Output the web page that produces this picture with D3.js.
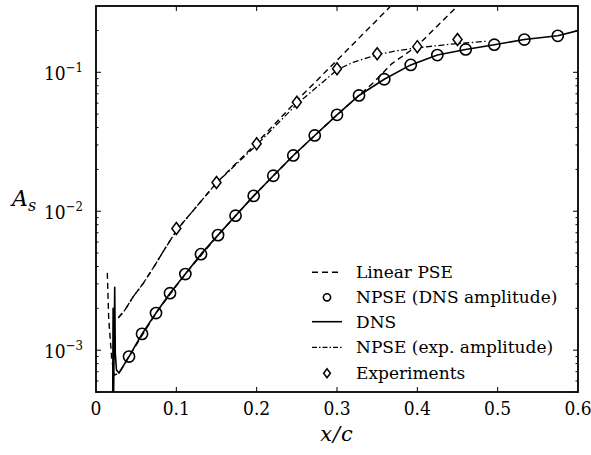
<!DOCTYPE html>
<html>
<head>
<meta charset="utf-8">
<script src="https://cdn.jsdelivr.net/npm/d3@7/dist/d3.min.js"></script>
<style>
  body { margin: 0; background: #fff; }
  .tick-label { font-stretch: condensed; }
</style>
</head>
<body>
<div id="app"></div>
<script>
const full = { width: 591, height: 455 };
const margin = { top: 6, left: 96, right: 13, bottom: 63 };
const inner = {
  width: full.width - margin.left - margin.right,
  height: full.height - margin.top - margin.bottom
};
const serif = "'DejaVu Serif', serif";

// NPSE (DNS amplitude) markers
const npseDnsX = [0.0411, 0.0573, 0.0747, 0.0921, 0.1112, 0.1307, 0.1519, 0.1737, 0.1963, 0.2207, 0.2456,
  0.2723, 0.3000, 0.3274, 0.3588, 0.3918, 0.4249, 0.4602, 0.4958, 0.5332, 0.5748];
const npseDnsY = [9.0e-4, 1.31e-3, 1.85e-3, 2.57e-3, 3.53e-3, 4.91e-3, 6.73e-3, 9.29e-3, 1.29e-2, 1.80e-2, 2.52e-2,
  3.51e-2, 4.94e-2, 6.81e-2, 8.91e-2, 0.113, 0.133, 0.146, 0.158, 0.172, 0.183];

// DNS (solid), with the inflow spike
const dnsX = [0.0208, 0.0213, 0.0218, 0.0233, 0.0240, 0.0255, 0.0286, 0.0411, 0.0573, 0.0747, 0.0921, 0.1112,
  0.1307, 0.1519, 0.1737, 0.1963, 0.2207, 0.2456, 0.2723, 0.3000, 0.3274, 0.3588, 0.3918, 0.4249, 0.4602,
  0.4958, 0.5332, 0.5748, 0.6];
const dnsY = [4.0e-4, 2.0e-3, 4.0e-4, 2.84e-3, 9.5e-4, 7.2e-4, 6.84e-4, 9.0e-4, 1.31e-3, 1.85e-3, 2.57e-3, 3.53e-3,
  4.91e-3, 6.73e-3, 9.29e-3, 1.29e-2, 1.80e-2, 2.52e-2, 3.51e-2, 4.94e-2, 6.81e-2, 8.91e-2, 0.113, 0.133, 0.146,
  0.158, 0.172, 0.183, 0.1995];

// Linear PSE started from DNS amplitude
const linDnsX = [0.0141, 0.0158, 0.0195, 0.0225, 0.0286, 0.0411, 0.0747, 0.1112, 0.1519, 0.1963, 0.2456, 0.3000,
  0.3452, 0.368, 0.4, 0.449];
const linDnsY = [3.6e-3, 1.7e-3, 8.8e-4, 6.6e-4, 6.84e-4, 9.0e-4, 1.85e-3, 3.53e-3, 6.73e-3, 1.29e-2, 2.52e-2, 4.94e-2,
  8.4e-2, 0.115, 0.155, 0.296];

// Linear PSE started from experimental amplitude
const linExpX = [0.0278, 0.0361, 0.0464, 0.0589, 0.0734, 0.0859, 0.1012, 0.15, 0.2, 0.254, 0.3006, 0.366];
const linExpY = [1.71e-3, 1.95e-3, 2.43e-3, 3.03e-3, 4.09e-3, 5.39e-3, 7.4e-3, 1.6e-2, 3.1e-2, 6.6e-2, 0.123, 0.296];

// NPSE (exp. amplitude)
const npseExpX = [0.0278, 0.0361, 0.0464, 0.0589, 0.0734, 0.0859, 0.1012, 0.15, 0.2, 0.25, 0.3, 0.32, 0.35,
  0.375, 0.4, 0.44, 0.485];
const npseExpY = [1.71e-3, 1.95e-3, 2.43e-3, 3.03e-3, 4.09e-3, 5.39e-3, 7.4e-3, 1.6e-2, 3.0e-2, 5.9e-2, 0.104,
  0.118, 0.134, 0.143, 0.150, 0.159, 0.167];

// Experiments
const expX = [0.10, 0.15, 0.20, 0.25, 0.30, 0.35, 0.40, 0.45];
const expY = [7.52e-3, 1.61e-2, 3.06e-2, 6.09e-2, 0.106, 0.136, 0.153, 0.172];

const xTicks = [0, 0.1, 0.2, 0.3, 0.4, 0.5, 0.6];
const xTickLabels = ["0", "0.1", "0.2", "0.3", "0.4", "0.5", "0.6"];
const yTicks = [1e-3, 1e-2, 1e-1];
const yTickExp = ["−3", "−2", "−1"];
const legendLabels = ["Linear PSE", "NPSE (DNS amplitude)", "DNS", "NPSE (exp. amplitude)", "Experiments"];

const zip = (xs, ys) => xs.map((x, i) => [x, ys[i]]);

const x = d3.scaleLinear().domain([0, 0.6]).range([0, inner.width]);
const y = d3.scaleLog().domain([5e-4, 0.3]).range([inner.height, 0]);

const svg = d3.select("#app")
  .append("svg")
  .attr("width", full.width)
  .attr("height", full.height)
  .attr("viewBox", `0 0 ${full.width} ${full.height}`)
  .style("font-family", serif);

svg.append("defs").append("clipPath").attr("id", "clip")
  .append("rect").attr("width", inner.width).attr("height", inner.height);

const g = svg.append("g").attr("transform", `translate(${margin.left},${margin.top})`);

const line = d3.line().x(d => x(d[0])).y(d => y(d[1]));
const plot = g.append("g").attr("clip-path", "url(#clip)");

const dashStyle = "6,4";
const dashDot = "6,2.5,1.5,2.5";

plot.append("path").datum(zip(linDnsX, linDnsY))
  .attr("d", line).attr("fill", "none").attr("stroke", "#000").attr("stroke-width", 1.4)
  .attr("stroke-dasharray", dashStyle);
plot.append("path").datum(zip(linExpX, linExpY))
  .attr("d", line).attr("fill", "none").attr("stroke", "#000").attr("stroke-width", 1.4)
  .attr("stroke-dasharray", dashStyle);
plot.append("path").datum(zip(npseExpX, npseExpY))
  .attr("d", line).attr("fill", "none").attr("stroke", "#000").attr("stroke-width", 1.3)
  .attr("stroke-dasharray", dashDot);
plot.append("path").datum(zip(dnsX, dnsY))
  .attr("d", line).attr("fill", "none").attr("stroke", "#000").attr("stroke-width", 1.6)
  .attr("stroke-linejoin", "round");

plot.selectAll(".npse").data(zip(npseDnsX, npseDnsY)).join("circle")
  .attr("class", "npse")
  .attr("cx", d => x(d[0])).attr("cy", d => y(d[1])).attr("r", 5.6)
  .attr("fill", "none").attr("stroke", "#000").attr("stroke-width", 1.6);

const diamond = (s) => `M0,${-s}L${s * 0.75},0L0,${s}L${-s * 0.75},0Z`;
plot.selectAll(".exp").data(zip(expX, expY)).join("path")
  .attr("class", "exp")
  .attr("transform", d => `translate(${x(d[0])},${y(d[1])})`)
  .attr("d", diamond(6))
  .attr("fill", "#fff").attr("stroke", "#000").attr("stroke-width", 1.5);

// frame and ticks
const minor = [];
[1e-4, 1e-3, 1e-2, 1e-1].forEach(dec => {
  for (let k = 2; k <= 9; k++) {
    const v = dec * k;
    if (v >= 5e-4 && v <= 0.3) minor.push(v);
  }
});
const ticks = g.append("g").attr("stroke", "#000").attr("stroke-width", 1);
xTicks.slice(1, -1).forEach(t => {
  ticks.append("line").attr("x1", x(t)).attr("x2", x(t)).attr("y1", inner.height).attr("y2", inner.height - 5);
  ticks.append("line").attr("x1", x(t)).attr("x2", x(t)).attr("y1", 0).attr("y2", 5);
});
yTicks.forEach(t => {
  ticks.append("line").attr("x1", 0).attr("x2", 5).attr("y1", y(t)).attr("y2", y(t));
  ticks.append("line").attr("x1", inner.width).attr("x2", inner.width - 5).attr("y1", y(t)).attr("y2", y(t));
});
minor.forEach(t => {
  ticks.append("line").attr("x1", 0).attr("x2", 2.5).attr("y1", y(t)).attr("y2", y(t));
  ticks.append("line").attr("x1", inner.width).attr("x2", inner.width - 2.5).attr("y1", y(t)).attr("y2", y(t));
});

g.append("rect").attr("width", inner.width).attr("height", inner.height)
  .attr("fill", "none").attr("stroke", "#000").attr("stroke-width", 1.8);

// tick labels
g.selectAll(".xl").data(xTicks).join("text")
  .attr("class", "xl tick-label")
  .attr("x", d => x(d)).attr("y", inner.height + 23)
  .attr("text-anchor", "middle").attr("font-size", 19)
  .text((d, i) => xTickLabels[i]);

const yl = g.selectAll(".yl").data(yTicks).join("text")
  .attr("class", "yl tick-label")
  .attr("x", -13).attr("y", d => y(d) + 8)
  .attr("text-anchor", "end").attr("font-size", 19);
yl.append("tspan").text("10");
yl.append("tspan").attr("dy", -8).attr("font-size", 13).text((d, i) => yTickExp[i]);

// axis titles
const ay = svg.append("text").attr("x", 12).attr("y", 206).attr("font-size", 22).attr("font-style", "italic");
ay.append("tspan").text("A");
ay.append("tspan").attr("dy", 5).attr("font-size", 16).text("s");

svg.append("text").attr("x", margin.left + inner.width / 2).attr("y", 441)
  .attr("text-anchor", "middle").attr("font-size", 21).attr("letter-spacing", 1)
  .attr("font-style", "italic").text("x/c");

// legend
const legY = [272.3, 297.3, 321.7, 347.3, 373.3];
const leg = svg.append("g");
leg.selectAll("text").data(legendLabels).join("text")
  .attr("x", 356).attr("y", (d, i) => legY[i] + 6)
  .attr("font-size", 17).text(d => d);
leg.append("line").attr("x1", 312).attr("x2", 342).attr("y1", legY[0]).attr("y2", legY[0])
  .attr("stroke", "#000").attr("stroke-width", 1.4).attr("stroke-dasharray", dashStyle);
leg.append("circle").attr("cx", 327).attr("cy", legY[1]).attr("r", 3.6)
  .attr("fill", "none").attr("stroke", "#000").attr("stroke-width", 1.6);
leg.append("line").attr("x1", 312).attr("x2", 342).attr("y1", legY[2]).attr("y2", legY[2])
  .attr("stroke", "#000").attr("stroke-width", 1.6);
leg.append("line").attr("x1", 312).attr("x2", 342).attr("y1", legY[3]).attr("y2", legY[3])
  .attr("stroke", "#000").attr("stroke-width", 1.3).attr("stroke-dasharray", "5,2,1.5,2");
leg.append("path").attr("transform", `translate(327,${legY[4]})`).attr("d", diamond(4.5))
  .attr("fill", "#fff").attr("stroke", "#000").attr("stroke-width", 1.5);
</script>
</body>
</html>
